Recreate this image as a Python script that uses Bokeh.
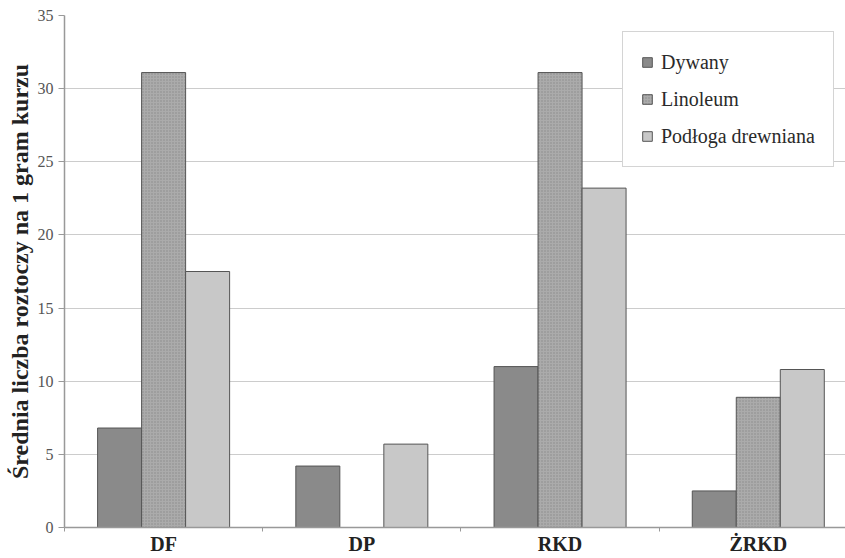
from bokeh.plotting import figure
from bokeh.models import ColumnDataSource, Range1d, FixedTicker, Legend, LegendItem
from bokeh.transform import dodge
from bokeh.embed import file_html
from bokeh.resources import INLINE

categories = ["DF", "DP", "RKD", "ŻRKD"]
dywany = [6.8, 4.2, 11.0, 2.5]
linoleum = [31.1, 0.0, 31.1, 8.9]
podloga = [17.5, 5.7, 23.2, 10.8]
y_ticks = [0, 5, 10, 15, 20, 25, 30, 35]

xpos = list(range(len(categories)))
src = ColumnDataSource(dict(x=xpos, dywany=dywany, linoleum=linoleum, podloga=podloga))

p = figure(width=845, height=558, output_backend="svg", toolbar_location=None,
           x_range=Range1d(-0.5, 3.44), y_range=Range1d(0, 35),
           min_border_left=64, min_border_right=0, min_border_top=15, min_border_bottom=31)
p.outline_line_color = None
p.background_fill_color = "white"
p.border_fill_color = "white"

bw = 0.222
r1 = p.vbar(x=dodge("x", -bw, range=p.x_range), top="dywany", width=bw, source=src,
            fill_color="#8a8a8a", line_color="#555555", line_width=1)
r2 = p.vbar(x=dodge("x", 0, range=p.x_range), top="linoleum", width=bw, source=src,
            fill_color="#ababab", line_color="#555555", line_width=1,
            hatch_pattern="dot", hatch_color="#8a8a8a", hatch_scale=3, hatch_weight=1)
r3 = p.vbar(x=dodge("x", bw, range=p.x_range), top="podloga", width=bw, source=src,
            fill_color="#c8c8c8", line_color="#555555", line_width=1)

# x axis
p.xaxis.ticker = FixedTicker(ticks=xpos, minor_ticks=[-0.5, 0.5, 1.5, 2.5, 3.5])
p.xaxis.major_label_overrides = {i: c for i, c in enumerate(categories)}
p.xaxis.major_tick_out = 0
p.xaxis.major_tick_in = 0
p.xaxis.minor_tick_out = 4
p.xaxis.minor_tick_in = 0
p.xaxis.minor_tick_line_color = "#999999"
p.xaxis.axis_line_color = "#999999"
p.xaxis.axis_line_width = 1.5
p.xaxis.major_label_text_font = "Liberation Serif"
p.xaxis.major_label_text_font_style = "bold"
p.xaxis.major_label_text_font_size = "20px"
p.xaxis.major_label_text_color = "#222222"
p.xaxis.major_label_standoff = 1

# y axis
p.yaxis.ticker = FixedTicker(ticks=y_ticks)
p.yaxis.minor_tick_line_color = None
p.yaxis.major_tick_out = 6
p.yaxis.major_tick_in = 0
p.yaxis.major_tick_line_color = "#999999"
p.yaxis.axis_line_color = "#999999"
p.yaxis.axis_line_width = 1.5
p.yaxis.major_label_text_font = "Liberation Serif"
p.yaxis.major_label_text_font_size = "16px"
p.yaxis.major_label_text_color = "#555555"
p.yaxis.major_label_standoff = 5
p.yaxis.axis_label = "Średnia liczba roztoczy na 1 gram kurzu"
p.yaxis.axis_label_text_font = "Liberation Serif"
p.yaxis.axis_label_text_font_style = "bold"
p.yaxis.axis_label_text_font_size = "24px"
p.yaxis.axis_label_text_color = "#222222"
p.yaxis.axis_label_standoff = 2

p.xgrid.grid_line_color = None
p.ygrid.grid_line_color = "#cccccc"
p.ygrid.grid_line_width = 1.2

legend = Legend(items=[LegendItem(label="Dywany", renderers=[r1]),
                       LegendItem(label="Linoleum", renderers=[r2]),
                       LegendItem(label="Podłoga drewniana", renderers=[r3])],
                location=(558, 360))
legend.border_line_color = "#aaaaaa"
legend.border_line_width = 1.2
legend.background_fill_color = "white"
legend.background_fill_alpha = 1
legend.label_text_font = "Liberation Serif"
legend.label_text_font_size = "20px"
legend.label_text_color = "#2a2a2a"
legend.glyph_width = 12
legend.glyph_height = 12
legend.label_height = 24
legend.spacing = 13
legend.padding = 18
legend.label_standoff = 8
legend.margin = 0
p.add_layout(legend, "center")

open("out.html", "w").write(file_html(p, INLINE))
